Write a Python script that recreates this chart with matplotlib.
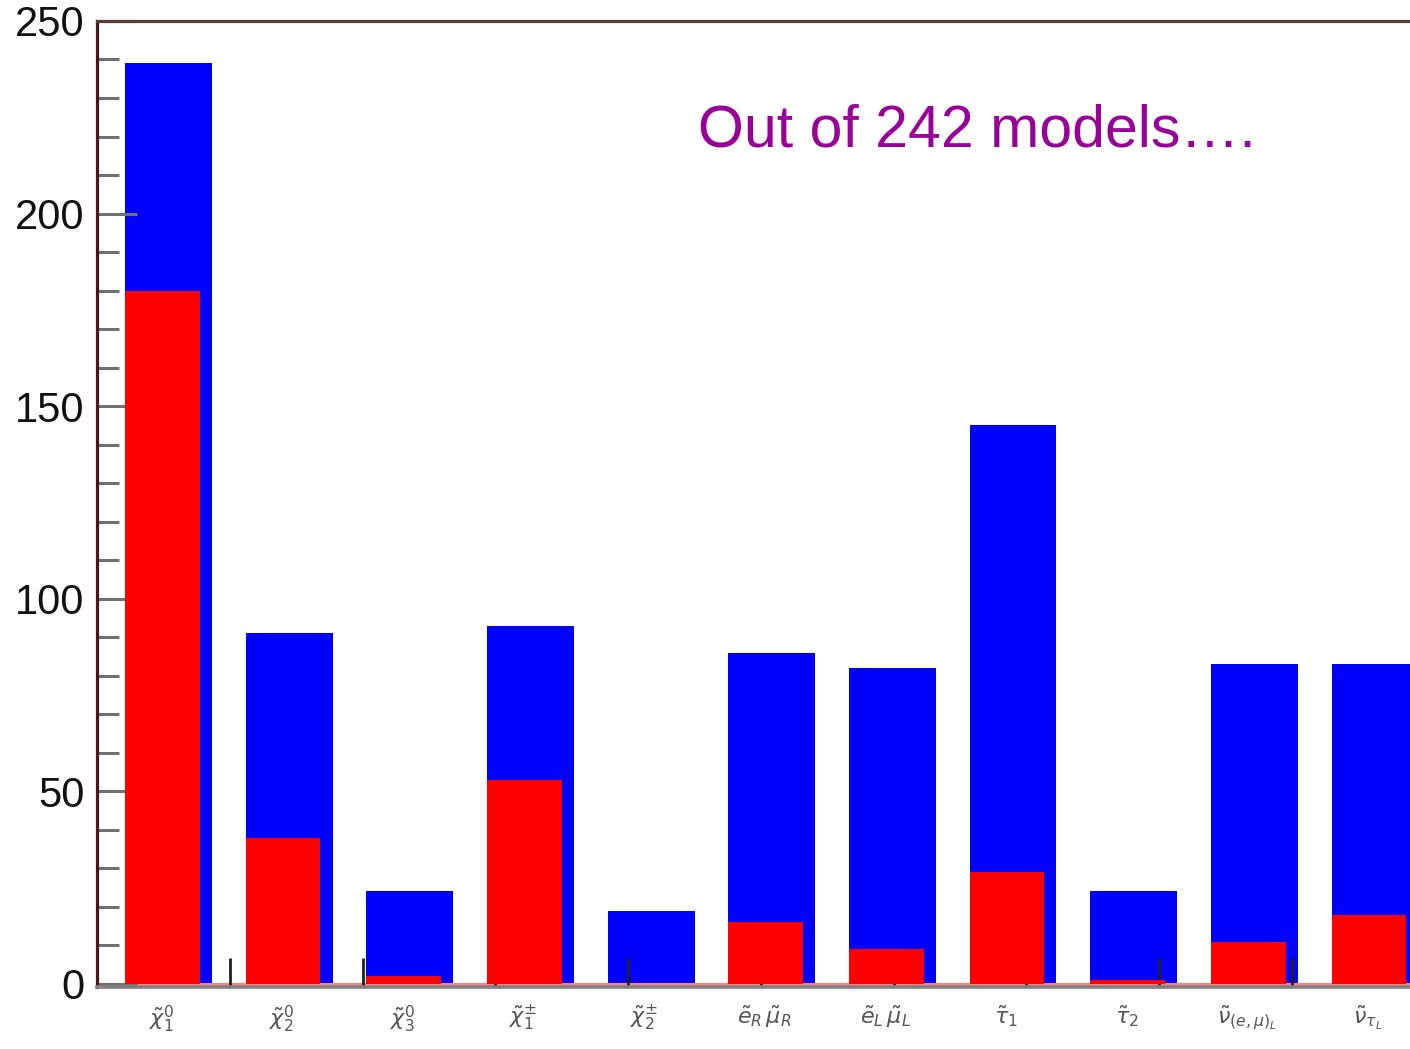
import numpy as np
import matplotlib
matplotlib.use("Agg")
import matplotlib.pyplot as plt
from matplotlib.ticker import MultipleLocator, FixedLocator

# particle labels and counts
labels = [r'$\tilde{\chi}^0_1$', r'$\tilde{\chi}^0_2$', r'$\tilde{\chi}^0_3$',
          r'$\tilde{\chi}^{\pm}_1$', r'$\tilde{\chi}^{\pm}_2$',
          r'$\tilde{e}_R\,\tilde{\mu}_R$', r'$\tilde{e}_L\,\tilde{\mu}_L$',
          r'$\tilde{\tau}_1$', r'$\tilde{\tau}_2$',
          r'$\tilde{\nu}_{(e,\mu)_L}$', r'$\tilde{\nu}_{\tau_L}$']
blue_counts = [239, 91, 24, 93, 19, 86, 82, 145, 24, 83, 83]
red_counts = [180, 38, 2, 53, 0, 16, 9, 29, 1, 11, 18]
note = "Out of 242 models\u2026."

# leftover x-axis tick marks from the original histogram frame
xtick_start = 0.87
xtick_step = 1.1

plt.rcParams['font.family'] = ['Liberation Sans', 'DejaVu Sans']
plt.rcParams['mathtext.fontset'] = 'dejavusans'

fig = plt.figure(figsize=(14.1, 10.49), dpi=100)
ax = fig.add_axes([0.0688, 0.0591, 0.9312, 0.9209])

x = np.arange(len(labels))
ax.bar(x, blue_counts, width=0.72, align='edge', color='#0000ff', zorder=1)
ax.bar(x, red_counts, width=0.62, align='edge', color='#ff0000', zorder=2)
ax.axhline(0, color='#ff8080', lw=2.2, zorder=1.2)

ax.set_xlim(-0.232, 10.65)
ax.set_ylim(-0.8, 250)

# y axis
ax.yaxis.set_major_locator(MultipleLocator(50))
ax.yaxis.set_minor_locator(MultipleLocator(10))
ax.tick_params(axis='y', which='major', direction='in', length=29, width=2.2,
               color='#707070', labelsize=30, pad=9)
ax.tick_params(axis='y', which='minor', direction='in', length=16, width=2.2,
               color='#707070')
for t in ax.get_yticklabels():
    t.set_color('#111111')

# x axis
ax.set_xticks(x + 0.3)
ax.set_xticklabels(labels)
ax.xaxis.set_minor_locator(FixedLocator(xtick_start + xtick_step * np.arange(9)))
ax.tick_params(axis='x', which='major', length=0, labelsize=16, pad=12,
               labelcolor='#555555')
ax.tick_params(axis='x', which='minor', direction='in', length=21, width=2,
               color='#202020')

ax.spines['left'].set_color('#4a1515')
ax.spines['left'].set_linewidth(2.3)
ax.spines['top'].set_color('#5a3a3a')
ax.spines['top'].set_linewidth(2.3)
ax.spines['bottom'].set_color('#808080')
ax.spines['bottom'].set_linewidth(2.6)
ax.spines['right'].set_visible(False)

ax.text(0.458, 0.8696, note, transform=ax.transAxes, color='#990099',
        fontsize=42.5, va='baseline', ha='left')

fig.savefig('out.png', dpi=100)
